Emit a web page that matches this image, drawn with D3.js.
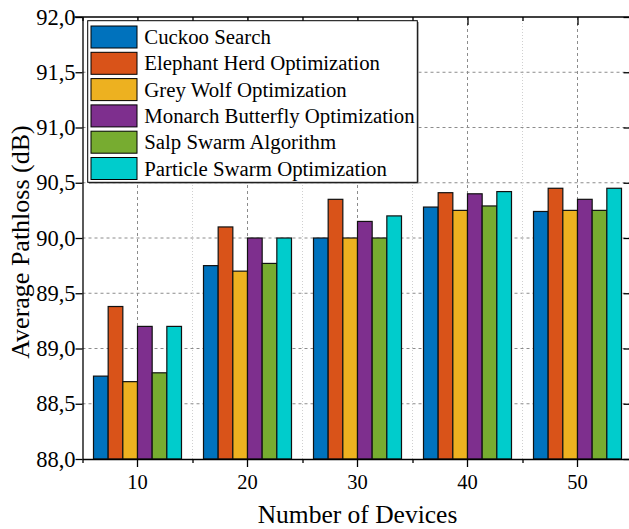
<!DOCTYPE html>
<html>
<head>
<meta charset="utf-8">
<script src="https://cdn.jsdelivr.net/npm/d3@7"></script>
<style>
  body { margin: 0; background: #fff; }
  svg { display: block; font-family: "Liberation Serif", "Times New Roman", serif; }
</style>
</head>
<body>
<div id="chart"></div>
<script>
var devices = [10, 20, 30, 40, 50];
var seriesNames = ["Cuckoo Search", "Elephant Herd Optimization", "Grey Wolf Optimization",
    "Monarch Butterfly Optimization", "Salp Swarm Algorithm", "Particle Swarm Optimization"];
var seriesColors = ["#0072BD", "#D95319", "#EDB120", "#7E2F8E", "#77AC30", "#00CCCC"];
var cuckoo   = [88.75, 89.75, 90.00, 90.28, 90.24];
var elephant = [89.38, 90.10, 90.35, 90.41, 90.45];
var greyWolf = [88.70, 89.70, 90.00, 90.25, 90.25];
var monarch  = [89.20, 90.00, 90.15, 90.40, 90.35];
var salp     = [88.78, 89.77, 90.00, 90.29, 90.25];
var particle = [89.20, 90.00, 90.20, 90.42, 90.45];
var yTicks = [88.0, 88.5, 89.0, 89.5, 90.0, 90.5, 91.0, 91.5, 92.0];

var allSeries = [cuckoo, elephant, greyWolf, monarch, salp, particle];

var width = 629, height = 529;
var plotLeft = 82.5, plotRight = 632.5, plotTop = 17, plotBottom = 459;

var svg = d3.select("#chart").append("svg")
    .attr("width", width)
    .attr("height", height);

var xGroup = d3.scaleBand()
    .domain(devices)
    .range([plotLeft, plotRight])
    .paddingInner(0.2)
    .paddingOuter(0.1);

var xSub = d3.scaleBand()
    .domain(d3.range(seriesNames.length))
    .range([0, xGroup.bandwidth()]);

// index scale used for top axis / grid (half steps between groups)
var xIdx = d3.scaleLinear()
    .domain([0.5, devices.length + 0.5])
    .range([plotLeft, plotRight]);

var y = d3.scaleLinear()
    .domain([88, 92])
    .range([plotBottom, plotTop]);

var commaLocale = d3.formatLocale({ decimal: ",", thousands: ".", grouping: [3], currency: ["", ""] });
var fmt = commaLocale.format(".1f");

// grid
var grid = svg.append("g").attr("class", "grid");
grid.selectAll(".hgrid")
    .data(yTicks.slice(1, -1))
    .enter().append("line")
    .attr("x1", plotLeft).attr("x2", plotRight)
    .attr("y1", d => y(d)).attr("y2", d => y(d))
    .attr("stroke", "#8c8c8c")
    .attr("stroke-width", 1)
    .attr("stroke-dasharray", "3,3");

grid.selectAll(".vgrid-major")
    .data(d3.range(1, devices.length + 1))
    .enter().append("line")
    .attr("x1", d => xIdx(d)).attr("x2", d => xIdx(d))
    .attr("y1", plotTop).attr("y2", plotBottom)
    .attr("stroke", "#8c8c8c")
    .attr("stroke-width", 1)
    .attr("stroke-dasharray", "3,3");

grid.selectAll(".vgrid-minor")
    .data(d3.range(1.5, devices.length, 1))
    .enter().append("line")
    .attr("x1", d => xIdx(d)).attr("x2", d => xIdx(d))
    .attr("y1", plotTop).attr("y2", plotBottom)
    .attr("stroke", "#d0d0d0")
    .attr("stroke-width", 1)
    .attr("stroke-dasharray", "1,2");

// bars
var groups = svg.selectAll(".group")
    .data(devices)
    .enter().append("g")
    .attr("class", "group")
    .attr("transform", d => "translate(" + xGroup(d) + ",0)");

groups.selectAll("rect")
    .data((d, i) => allSeries.map((s, k) => ({ k: k, v: s[i] })))
    .enter().append("rect")
    .attr("x", d => xSub(d.k))
    .attr("y", d => y(d.v))
    .attr("width", xSub.bandwidth())
    .attr("height", d => plotBottom - y(d.v))
    .attr("fill", d => seriesColors[d.k])
    .attr("stroke", "#111")
    .attr("stroke-width", 1.2);

// axes
var bottomAxis = svg.append("g")
    .attr("transform", "translate(0," + plotBottom + ")")
    .call(d3.axisBottom(xGroup).tickSize(8).tickSizeOuter(0).tickPadding(7));
bottomAxis.selectAll("text").attr("font-size", "20.5px")
    .attr("font-family", "Liberation Serif").attr("fill", "#000");

svg.append("g")
    .attr("transform", "translate(0," + plotBottom + ")")
    .call(d3.axisBottom(xIdx).tickValues(d3.range(0.5, devices.length + 1, 1)).tickSize(4).tickFormat(""))
    .call(g => g.select(".domain").remove());

var topAxis = svg.append("g")
    .attr("transform", "translate(0," + plotTop + ")")
    .call(d3.axisTop(xIdx).tickValues(d3.range(1, devices.length + 1)).tickSize(-8).tickSizeOuter(0).tickFormat(""));
topAxis.select(".domain").attr("d", "M" + (plotLeft - 8) + ",0H" + plotRight);
svg.append("g")
    .attr("transform", "translate(0," + plotTop + ")")
    .call(d3.axisTop(xIdx).tickValues(d3.range(0.5, devices.length + 1, 1)).tickSize(-4).tickFormat(""))
    .call(g => g.select(".domain").remove());

var leftAxis = svg.append("g")
    .attr("transform", "translate(" + plotLeft + ",0)")
    .call(d3.axisLeft(y).tickValues(yTicks).tickSize(7).tickSizeOuter(0).tickPadding(0).tickFormat(fmt));
leftAxis.selectAll("text").attr("font-size", "22.5px")
    .attr("font-family", "Liberation Serif").attr("fill", "#000");

svg.append("g")
    .attr("transform", "translate(" + plotRight + ",0)")
    .call(d3.axisRight(y).tickValues(yTicks).tickSize(-9).tickSizeOuter(0).tickFormat(""));

svg.selectAll(".domain, .tick line").attr("stroke", "#000").attr("stroke-width", 1.3);

// legend
var legend = svg.append("g").attr("class", "legend");
legend.append("rect")
    .attr("x", 89).attr("y", 22)
    .attr("width", 329.6).attr("height", 161.6)
    .attr("fill", "#777");
legend.append("rect")
    .attr("x", 87.7).attr("y", 20.7)
    .attr("width", 329.6).attr("height", 161.6)
    .attr("fill", "#fff")
    .attr("stroke", "#000")
    .attr("stroke-width", 1);

var rows = legend.selectAll(".row")
    .data(seriesNames)
    .enter().append("g")
    .attr("class", "row")
    .attr("transform", (d, i) => "translate(91," + (26 + i * 26.3) + ")");
rows.append("rect")
    .attr("width", 46).attr("height", 22)
    .attr("fill", (d, i) => seriesColors[i])
    .attr("stroke", "#000")
    .attr("stroke-width", 1);
rows.append("text")
    .attr("x", 53.3).attr("y", 18)
    .attr("font-size", "20.8px")
    .attr("fill", "#000")
    .text(d => d);

// axis titles
svg.append("text")
    .attr("x", (plotLeft + plotRight) / 2)
    .attr("y", 523)
    .attr("text-anchor", "middle")
    .attr("font-size", "25.5px")
    .text("Number of Devices");

svg.append("text")
    .attr("transform", "translate(29," + ((plotTop + plotBottom) / 2 + 4) + ") rotate(-90)")
    .attr("text-anchor", "middle")
    .attr("font-size", "26px")
    .text("Average Pathloss (dB)");
</script>
</body>
</html>
